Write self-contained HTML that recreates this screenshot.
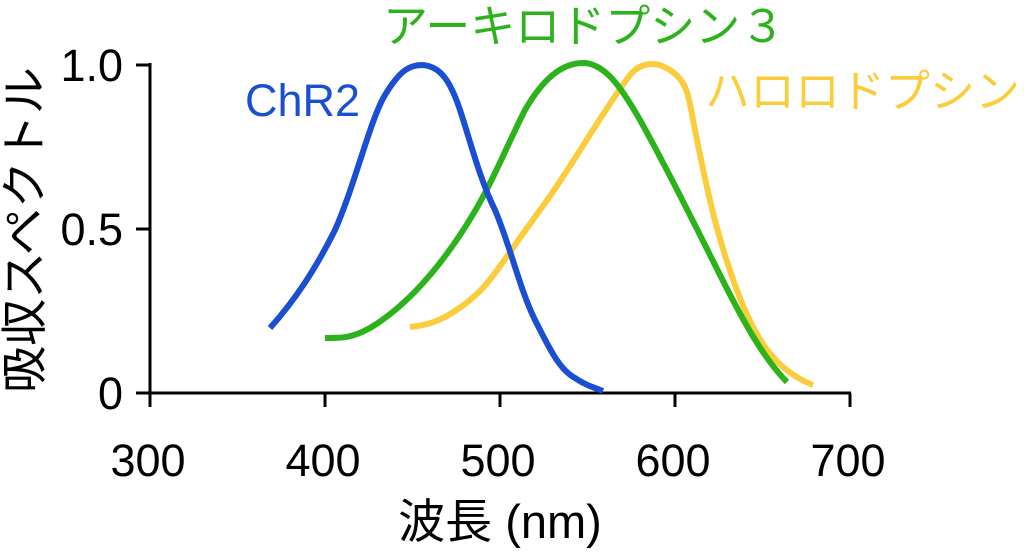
<!DOCTYPE html>
<html><head><meta charset="utf-8"><style>
html,body{margin:0;padding:0;background:#fff;}
svg{display:block;font-family:"Liberation Sans","Noto Sans CJK JP",sans-serif;}
</style></head><body>
<svg width="1024" height="552" viewBox="0 0 1024 552" xmlns="http://www.w3.org/2000/svg">
<g stroke="#000" stroke-width="3" fill="none">
<line x1="150" y1="63" x2="150" y2="394"/>
<line x1="148.5" y1="393" x2="851" y2="393"/>
<line x1="136" y1="65" x2="150" y2="65"/>
<line x1="136" y1="229" x2="150" y2="229"/>
<line x1="136" y1="393" x2="150" y2="393"/>
<line x1="150" y1="393" x2="150" y2="407"/>
<line x1="325" y1="393" x2="325" y2="407"/>
<line x1="500" y1="393" x2="500" y2="407"/>
<line x1="675" y1="393" x2="675" y2="407"/>
<line x1="850" y1="393" x2="850" y2="407"/>
</g>
<g font-size="45" fill="#000">
<text x="123" y="81" text-anchor="end">1.0</text>
<text x="123" y="245" text-anchor="end">0.5</text>
<text x="123" y="409" text-anchor="end">0</text>
<text x="148" y="476" text-anchor="middle">300</text>
<text x="323" y="476" text-anchor="middle">400</text>
<text x="498" y="476" text-anchor="middle">500</text>
<text x="673" y="476" text-anchor="middle">600</text>
<text x="848" y="476" text-anchor="middle">700</text>
<text x="500" y="538" text-anchor="middle" font-size="47">波長 (nm)</text>
<text transform="translate(41,230) rotate(-90)" text-anchor="middle" font-size="47">吸収スペクトル</text>
</g>
<g fill="none" stroke-width="6" stroke-linejoin="round" stroke-linecap="butt">
<path stroke="#fbcd3d" d="M410,327 C430,325 445,320 470,300 C490,284 500,265 540,210 C570,170 600,115 630,75 C640,63 655,60 670,70 C688,82 688,95 695,130 C705,180 715,230 735,285 C755,340 775,370 813,385"/>
<path stroke="#2cb31c" d="M325,338 C340,338 350,339 370,328 C400,310 430,280 460,235 C490,190 500,160 525,110 C545,75 565,62 585,63 C605,65 620,85 640,120 C665,165 690,215 720,275 C745,325 765,360 787,382"/>
<path stroke="#1a4fd3" d="M270,328 C295,300 315,270 335,230 C355,185 370,120 385,95 C400,70 410,65 422,65 C440,66 450,80 460,110 C470,140 480,180 495,210 C510,245 520,290 535,320 C550,350 560,370 575,378 C585,385 595,388 603,391"/>
</g>
<g font-size="45">
<text x="245" y="116" fill="#1a4fd3">ChR2</text>
<text x="383" y="42" fill="#2cb31c">アーキロドプシン３</text>
<text x="705" y="107" fill="#fbcd3d">ハロロドプシン</text>
</g>
</svg>
</body></html>
